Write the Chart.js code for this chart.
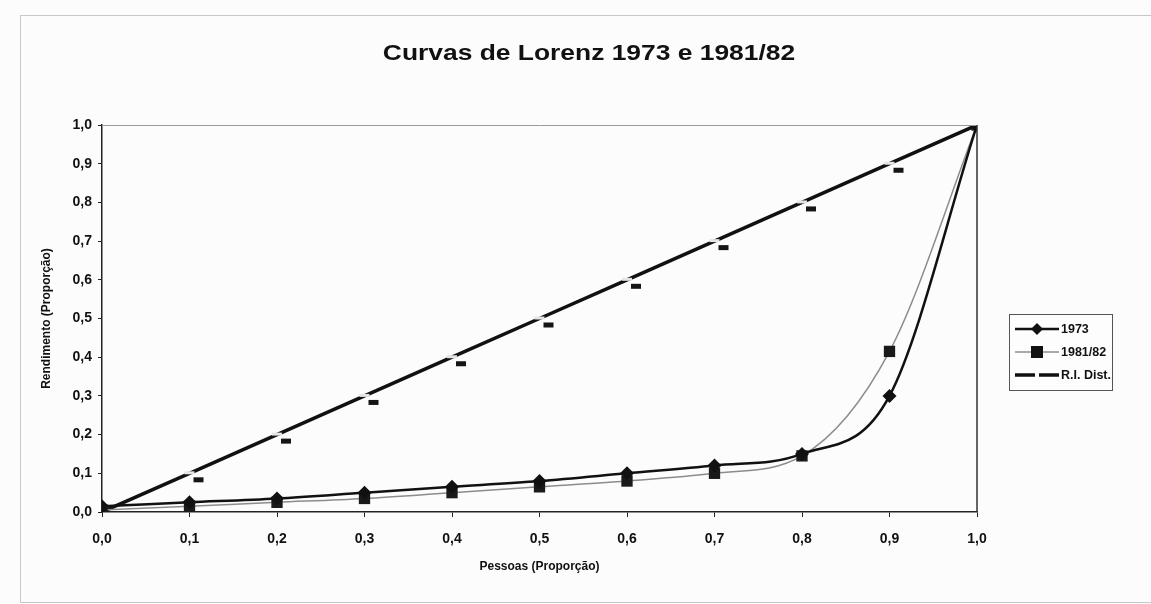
<!DOCTYPE html>
<html>
<head>
<meta charset="utf-8">
<title>Curvas de Lorenz 1973 e 1981/82</title>
<script src="https://cdn.jsdelivr.net/npm/chart.js@4"></script>
<style>
    html, body { margin: 0; padding: 0; background: #fcfcfc; }
    #lorenzChart { display: block; }
</style>
</head>
<body>
<canvas id="lorenzChart" width="1151" height="604"></canvas>
<script>
// dados
const pessoas = [0.0, 0.1, 0.2, 0.3, 0.4, 0.5, 0.6, 0.7, 0.8, 0.9, 1.0];
const curva1973 = [0.015, 0.025, 0.035, 0.05, 0.065, 0.08, 0.10, 0.12, 0.15, 0.30, 1.0];
const curva1981 = [0.005, 0.015, 0.025, 0.035, 0.05, 0.065, 0.08, 0.10, 0.145, 0.415, 1.0];
const igualdade = [0.0, 0.1, 0.2, 0.3, 0.4, 0.5, 0.6, 0.7, 0.8, 0.9, 1.0];
const legendas = ['1973', '1981/82', 'R.I. Dist.'];

const FONTE = "'Liberation Sans', Arial, sans-serif";

function pares(ys) {
    return pessoas.map((x, i) => ({ x: x, y: ys[i] }));
}

// marcador "traço" da recta de igual distribuição (impresso ligeiramente desviado)
function marcadorTraco() {
    const c = document.createElement('canvas');
    c.width = 34;
    c.height = 34;
    const g = c.getContext('2d');
    g.fillStyle = '#e4e4e4';
    g.fillRect(12, 15, 10, 3);
    g.fillStyle = '#151515';
    g.fillRect(17 + 4, 17 + 4, 10, 5);
    return c;
}
const traco = marcadorTraco();

function formatoVirgula(v) {
    return Number(v).toFixed(1).replace('.', ',');
}

// moldura exterior, título, borda do gráfico e legenda
const extras = {
    id: 'extras',
    beforeDraw(chart) {
        const ctx = chart.ctx;
        ctx.save();
        ctx.fillStyle = '#fcfcfc';
        ctx.fillRect(0, 0, chart.width, chart.height);
        ctx.strokeStyle = '#c8c8c8';
        ctx.lineWidth = 1;
        ctx.strokeRect(20.5, 15.5, 1140, 587);
        ctx.restore();
    },
    afterDatasetsDraw(chart) {
        const ctx = chart.ctx;
        const a = chart.chartArea;
        ctx.save();
        // linha superior cinzenta e lado direito
        ctx.strokeStyle = '#9a9a9a';
        ctx.lineWidth = 1;
        ctx.beginPath();
        ctx.moveTo(a.left, a.top + 0.5);
        ctx.lineTo(a.right, a.top + 0.5);
        ctx.stroke();
        ctx.strokeStyle = '#333';
        ctx.lineWidth = 1.5;
        ctx.beginPath();
        ctx.moveTo(a.right, a.top);
        ctx.lineTo(a.right, a.bottom);
        ctx.stroke();

        // título
        ctx.fillStyle = '#111';
        ctx.font = 'bold 22px ' + FONTE;
        ctx.textAlign = 'center';
        ctx.textBaseline = 'middle';
        ctx.translate(589, 54);
        ctx.scale(1.2, 1);
        ctx.fillText('Curvas de Lorenz 1973 e 1981/82', 0, 0);
        ctx.restore();

        // legenda
        ctx.save();
        const lx = 1009, ly = 314, lw = 103, lh = 76;
        ctx.fillStyle = '#fdfdfd';
        ctx.fillRect(lx, ly, lw, lh);
        ctx.strokeStyle = '#555';
        ctx.lineWidth = 1;
        ctx.strokeRect(lx + 0.5, ly + 0.5, lw, lh);
        ctx.font = 'bold 12.5px ' + FONTE;
        ctx.textAlign = 'left';
        ctx.textBaseline = 'middle';
        chart.data.datasets.forEach((ds, i) => {
            const y = ly + 15 + i * 23;
            ctx.strokeStyle = ds.borderColor;
            ctx.lineWidth = ds.borderWidth;
            ctx.beginPath();
            ctx.moveTo(lx + 6, y);
            ctx.lineTo(lx + 50, y);
            ctx.stroke();
            const cx = lx + 28;
            ctx.fillStyle = '#111';
            if (ds.pointStyle === 'rectRot') {
                ctx.beginPath();
                ctx.moveTo(cx, y - 6);
                ctx.lineTo(cx + 6, y);
                ctx.lineTo(cx, y + 6);
                ctx.lineTo(cx - 6, y);
                ctx.closePath();
                ctx.fill();
            } else if (ds.pointStyle === 'rect') {
                ctx.fillRect(cx - 6, y - 6, 12, 12);
            } else {
                ctx.fillStyle = '#fdfdfd';
                ctx.fillRect(cx - 2, y - 3, 4, 6);
            }
            ctx.fillStyle = '#111';
            ctx.fillText(legendas[i], lx + 52, y + 1);
        });
        ctx.restore();
    }
};

const ctx = document.getElementById('lorenzChart');

new Chart(ctx, {
    type: 'line',
    data: {
        datasets: [
            {
                label: legendas[0],
                data: pares(curva1973),
                borderColor: '#111',
                borderWidth: 2.5,
                backgroundColor: '#111',
                pointStyle: 'rectRot',
                pointRadius: 7,
                pointBorderWidth: 0,
                cubicInterpolationMode: 'monotone',
                order: 1
            },
            {
                label: legendas[1],
                data: pares(curva1981),
                borderColor: '#8c8c8c',
                borderWidth: 1.5,
                backgroundColor: '#1a1a1a',
                pointStyle: 'rect',
                pointRadius: 8,
                pointBorderWidth: 0,
                cubicInterpolationMode: 'monotone',
                order: 2
            },
            {
                label: legendas[2],
                data: pares(igualdade),
                borderColor: '#111',
                borderWidth: 3.5,
                backgroundColor: '#111',
                pointStyle: traco,
                pointRadius: 6,
                tension: 0,
                order: 3
            }
        ]
    },
    options: {
        responsive: false,
        animation: false,
        layout: {
            padding: { left: 20, right: 174, top: 125, bottom: 8 }
        },
        plugins: {
            legend: { display: false },
            title: { display: false },
            tooltip: { enabled: false }
        },
        scales: {
            x: {
                type: 'linear',
                min: 0,
                max: 1,
                afterFit(scale) { scale.height = 84; },
                ticks: {
                    stepSize: 0.1,
                    color: '#111',
                    padding: 14,
                    font: { family: FONTE, size: 14, weight: 'bold' },
                    callback: formatoVirgula
                },
                grid: {
                    drawOnChartArea: false,
                    color: '#222',
                    tickLength: 5
                },
                border: { color: '#222', width: 1.5 },
                title: {
                    display: true,
                    text: 'Pessoas (Proporção)',
                    color: '#111',
                    font: { family: FONTE, size: 12, weight: 'bold' },
                    padding: { top: 0, bottom: 22 }
                }
            },
            y: {
                min: 0,
                max: 1,
                afterFit(scale) { scale.width = 82; },
                ticks: {
                    stepSize: 0.1,
                    color: '#111',
                    padding: 6,
                    font: { family: FONTE, size: 14, weight: 'bold' },
                    callback: formatoVirgula
                },
                grid: {
                    drawOnChartArea: false,
                    color: '#222',
                    tickLength: 4
                },
                border: { color: '#222', width: 1.5 },
                title: {
                    display: true,
                    text: 'Rendimento (Proporção)',
                    color: '#111',
                    font: { family: FONTE, size: 12, weight: 'bold' },
                    padding: { top: 19, bottom: 0 }
                }
            }
        }
    },
    plugins: [extras]
});
</script>
</body>
</html>
